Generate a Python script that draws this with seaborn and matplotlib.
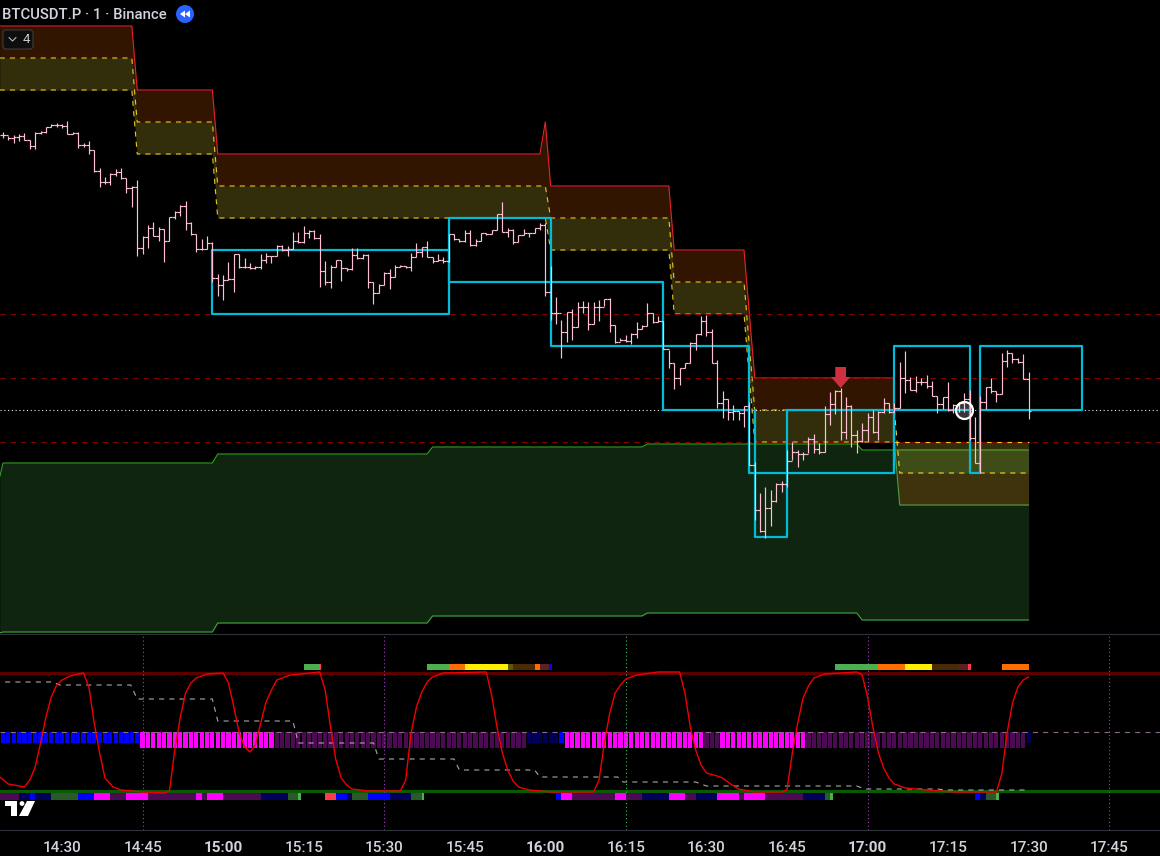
import numpy as np
import pandas as pd
import matplotlib
matplotlib.use("Agg")
import matplotlib.pyplot as plt
from matplotlib.patches import Circle, FancyBboxPatch, Polygon
import seaborn as sns

# ---------- data ----------
# x = minutes after 14:30 ; y = chart level on the (unlabelled) inverted price/oscillator scale
tick_minutes = [0, 15, 30, 45, 60, 75, 90, 105, 120, 135, 150, 165, 180, 195]
tick_labels = ["14:30", "14:45", "15:00", "15:15", "15:30", "15:45", "16:00",
               "16:15", "16:30", "16:45", "17:00", "17:15", "17:30", "17:45"]
bold_labels = ["15:00", "16:00", "17:00"]
first_bar_minute = -11

highs = [132,136,135,134,133,140,132,131,127,124,123,124,121,132,132,143,141,150,168,177,
         173,169,168,178,186,180,236,225,222,227,229,217,211,205,201,222,234,239,236,242,
         274,275,262,254,254,258,263,266,254,253,256,245,245,246,232,232,226,230,230,234,
         261,265,260,260,268,248,248,254,254,282,284,272,269,265,265,266,253,243,247,241,
         257,254,257,234,234,239,230,230,239,233,233,230,214,202,228,229,235,229,233,228,
         223,223,266,
         297,320,312,309,302,301,302,302,300,299,298,325,338,335,333,322,325,303,313,316,
         321,350,363,368,363,342,334,316,315,329,360,391,399,405,411,
         406,402,462,493,487,490,483,481,450,442,450,452,437,434,443,406,392,390,388,397,
         405,430,423,413,410,411,398,403,403,362,351,377,376,378,375,381,396,397,382,404,
         402,393,390,417,396,387,378,391,353,350,353,358,354,372]
lows = [138,140,143,141,140,149,149,134,133,127,127,128,134,134,148,147,154,172,187,184,
        185,176,179,193,207,256,254,248,236,241,262,241,219,216,230,235,252,250,249,282,
        296,300,280,292,268,268,269,269,269,263,263,256,251,256,249,243,243,238,239,287,
        285,288,267,281,271,270,259,259,288,304,293,285,289,277,267,268,271,257,257,257,
        263,261,263,262,240,242,242,246,246,241,235,234,230,232,237,244,242,235,237,233,
        230,296,320,
        324,358,342,340,327,313,330,324,321,306,332,343,341,342,344,338,329,326,323,322,
        349,368,389,385,368,363,350,335,336,363,408,418,420,420,420,
        427,465,520,532,538,526,502,492,487,460,467,460,453,453,454,452,425,414,440,439,
        447,453,442,441,433,440,413,413,412,408,393,390,392,385,388,396,413,409,411,413,
        412,412,440,463,473,409,393,402,394,367,363,363,379,419]
closes = [135,138,137,136,140,146,133,132,127,125,125,126,134,133,145,145,150,171,182,182,
          174,172,178,188,187,248,237,228,236,229,241,217,212,206,223,234,249,249,243,278,
          285,280,279,254,267,267,268,267,260,256,256,246,250,249,241,242,233,231,238,271,
          282,267,260,268,269,255,258,255,282,293,285,273,277,267,266,267,257,252,247,257,
          261,260,261,234,239,241,233,245,241,233,234,230,214,232,230,242,235,233,233,228,
          225,292,313,
          313,332,312,327,307,307,324,307,307,299,325,342,340,341,334,329,326,313,322,321,
          349,363,378,368,363,343,334,321,332,363,403,399,412,411,413,
          406,465,510,531,508,501,484,484,461,452,454,454,439,449,452,414,404,391,432,406,
          435,441,430,417,432,412,403,412,408,378,380,390,382,382,386,396,404,397,410,405,
          403,399,438,463,402,387,391,394,361,353,359,362,379,411]

band_minutes = [-11.6, 13, 14, 28, 29, 89, 90, 91, 113, 114, 127, 129, 155]
band_top = [26, 26, 90, 90, 154, 154, 122, 186, 186, 250, 250, 378, 378]
band_mid = [58, 58, 122, 122, 186, 186, 186, 218, 218, 282, 282, 410, 410]
band_low = [90, 90, 154, 154, 218, 218, 218, 250, 250, 314, 314, 442, 442]

late_minutes = [155, 156, 180]
late_top = [442, 442, 442]
late_mid = [442, 473, 473]
late_low = [442, 505, 505]
late_mid_line = [410, 473, 473]

green_minutes = [-11.6, -11, 28, 29, 68, 69, 108, 109, 148, 149, 180]
green_top = [477, 463, 463, 454, 454, 447, 447, 444, 444, 450, 450]
green_low = [633, 632, 632, 623, 623, 616, 616, 613, 613, 620, 620]

levels_red = [314, 378, 442]
level_last = 410

box_paths = [
    ([28, 28, 72, 72, 28], [250, 314, 314, 250, 250]),
    ([72, 72, 91, 91, 72], [218, 282, 282, 218, 218]),
    ([91, 91, 112, 112, 91], [282, 346, 346, 282, 282]),
    ([112, 112, 128, 128, 112], [346, 410, 410, 346, 346]),
    ([128, 128, 155, 155, 135, 135, 129, 129], [410, 473, 473, 410, 410, 537, 537, 410]),
    ([155, 155, 169, 169, 155], [473, 346, 346, 410, 410]),
    ([169, 169, 171, 171], [410, 473, 473, 410]),
    ([171, 171, 190, 190, 171], [410, 346, 346, 410, 410]),
]

signal_minute = 145
signal_tail, signal_shoulder, signal_tip = 367, 377, 388
marker_minute, marker_level = 168, 410

osc_minutes = [-11.6,-10,-8,-7,-6,-5,-4,-3,-2,-1,0,1.5,3,4,5,6,7,8,9.5,11,15,19,20,21,22,23,24,25,27,30,
               31,32,33,34,35,36,37,38,39,40,42.5,48,49,50,51,52,53,54,57,63,64,65,66,67,68,69,71,79,80,81,
               82,83,84,85,87,91,99,100,101,102,103,104,105,107,111,115,116,117,118,119,120,122,123,124.5,126,
               129,134,135,136,137,138,139,140,142,148,149,150,151,152,153,154,155,157,161,166,174,175,176,177,178,179,180]
osc_values = [777,784,786,787,780,767,743,717,697,685,680,676,674,673,687,723,753,778,787,790,792,793,791,750,718,693,683,678,674,673,
              683,707,733,747,752,745,723,702,690,680,675,672,690,727,760,778,785,789,791,791,780,733,707,692,682,677,673,672,695,727,
              753,770,781,787,790,792,792,780,743,713,693,685,679,675,672,672,693,727,750,765,773,776,778,784,789,
              792,792,790,753,723,698,686,678,674,672,675,697,727,752,768,778,784,788,790,792,792,774,733,703,687,680,677]

slow_minutes = [-10.6,-1.7,-0.4,12.8,14,28,29,43,44,58,59,73,74,88,89,103.5,104.5,118,120,134.6,148,149.5,163,164.5,180]
slow_values = [682,682,685,685,699,699,721,721,743,743,759,759,770,770,777,777,782,782,786,786,786,789,789,790,790]

hist_states = ["blue", "magenta", "purple", "navy", "blue", "magenta", "purple", "magenta", "purple", "navy"]
hist_counts = [26, 25, 47, 6, 1, 26, 3, 16, 41, 1]
hist_depth = {"blue": 11, "navy": 11, "magenta": 16, "purple": 16}

strip_low_start = [-11.5,-8,-6,-5,-2,3,6,9,12,16,25,26,27,30,37,42,44,49,51,53,54,57,61,65,67,
                   92,93,95,103,105,108,113,116,118,122,126,127,131,138,142,143,170,171,172,174]
strip_low_end = [-8,-6,-5,-2,3,6,9,12,16,25,26,27,30,37,42,44,44.5,51,53,54,57,61,65,67,67.5,
                 93,95,103,105,108,113,116,118,122,126,127,131,138,142,143,143.5,171,172,174,174.5]
strip_low_state = ["purple","navy","blue","navy","dgreen","blue","magenta","purple","magenta","purple","magenta",
                   "purple","magenta","purple","navy","dgreen","lgreen","red","blue","navy","dgreen","blue","navy",
                   "dgreen","lgreen","blue","magenta","purple","magenta","purple","navy","magenta","purple","navy",
                   "magenta","purple","magenta","purple","navy","dgreen","lgreen","blue","navy","dgreen","lgreen"]
strip_top_start = [45,48,68,72,75,83,84,88,89,90.7,144,152,157,162,167,168.7,175]
strip_top_end = [48,48.3,72,75,83,84,88,89,90.7,91.3,152,157,162,167,168.7,169.3,180]
strip_top_state = ["lgreen","red","lgreen","orange","yellow","olive","brown","orange","maroon","blue",
                   "lgreen","orange","yellow","brown","maroon","red","orange"]

# ---------- styles ----------
palette = {"blue": "#0000ff", "navy": "#00005a", "magenta": "#ff00ff", "purple": "#4c0a52",
           "dgreen": "#2a5a2a", "lgreen": "#4caf50", "red": "#ff3b4a", "orange": "#ff6d00",
           "yellow": "#ffee00", "olive": "#5a5a00", "brown": "#4a2a05", "maroon": "#5e2020"}
CYAN = "#00bcd8"
PINK = "#ffc0d4"
TEXT = "#d1d4dc"
PX1 = 0.8  # about one pixel line width at dpi 100

sns.set_theme(style="dark", rc={"axes.facecolor": "black", "figure.facecolor": "black",
                                "savefig.facecolor": "black", "axes.grid": False,
                                "patch.edgecolor": "none", "patch.linewidth": 0})
plt.rcParams["font.family"] = ["Roboto", "DejaVu Sans"]

W, H = 1160, 856
fig = plt.figure(figsize=(W / 100, H / 100), dpi=100)

def pane(top, bottom):
    return fig.add_axes([0, (H - bottom) / H, 1, (bottom - top) / H])

x_left, x_right = -11.55, 204.47

ax = pane(0, 634)
ax_hist = pane(634, 830)
ax_osc = pane(634, 830)
ui = fig.add_axes([0, 0, 1, 1])


def line(axis, xs, ys, **kw):
    sns.lineplot(x=list(xs), y=list(ys), estimator=None, sort=False, errorbar=None, ax=axis, **kw)


dash = (0, (4.6, 4.6))

# ---------- main pane ----------
ax.fill_between(green_minutes, green_top, green_low, color="#0f2510", lw=0, zorder=1)
line(ax, green_minutes, green_top, color="#2ea61e", lw=PX1, zorder=2)
line(ax, green_minutes, green_low, color="#3fa63f", lw=PX1, zorder=2)

ax.fill_between(band_minutes, band_top, band_mid, color="#ff6d00", alpha=0.2, lw=0, zorder=3)
ax.fill_between(band_minutes, band_mid, band_low, color="#ffeb3b", alpha=0.2, lw=0, zorder=3)
ax.fill_between(late_minutes, late_top, late_mid, color="#ffeb3b", alpha=0.2, lw=0, zorder=3)
ax.fill_between(late_minutes, late_mid, late_low, color="#ff6d00", alpha=0.2, lw=0, zorder=3)

line(ax, band_minutes, band_top, color="#e4202e", lw=PX1, zorder=4)
line(ax, band_minutes, band_mid, color="#ecc818", lw=PX1, linestyle=dash, zorder=4)
line(ax, band_minutes, band_low, color="#ecc818", lw=PX1, linestyle=dash, zorder=4)
line(ax, late_minutes, late_top, color="#ecc818", lw=PX1, linestyle=dash, zorder=4)
line(ax, late_minutes, late_mid_line, color="#f0d830", lw=PX1, linestyle=dash, zorder=4)
line(ax, late_minutes, late_low, color="#559f40", lw=PX1, zorder=4)

for lvl in levels_red:
    ax.axhline(lvl, color="#8a0000", lw=PX1, linestyle=dash, zorder=5)
ax.axhline(level_last, color="#f0e6e6", lw=PX1, linestyle=(0, (1, 2.4)), zorder=5)

for bx, by in box_paths:
    line(ax, bx, by, color=CYAN, lw=1.6, zorder=6)

bar_minutes = np.arange(first_bar_minute, first_bar_minute + len(closes))
opens = [closes[0]] + closes[:-1]
BAR_LW = 0.85
for coll in (ax.vlines(bar_minutes, highs, lows, color=PINK, lw=BAR_LW, zorder=7),
             ax.hlines(opens, bar_minutes - 0.5, bar_minutes, color=PINK, lw=BAR_LW, zorder=7),
             ax.hlines(closes, bar_minutes, bar_minutes + 0.5, color=PINK, lw=BAR_LW, zorder=7)):
    coll.set_snap(True)

ax.fill([signal_minute - 1, signal_minute + 1, signal_minute + 1, signal_minute + 1.8,
         signal_minute, signal_minute - 1.8, signal_minute - 1],
        [signal_tail, signal_tail, signal_shoulder, signal_shoulder, signal_tip,
         signal_shoulder, signal_shoulder], color="#cf3040", lw=0, zorder=8)
ax.scatter([marker_minute], [marker_level], s=150, facecolor=(1, 1, 1, 0.22), edgecolor="white",
           linewidths=1.6, zorder=9)

ax.set(xlim=(x_left, x_right), ylim=(634, 0), xlabel=None, ylabel=None, xticks=[], yticks=[])

# ---------- oscillator pane ----------
hist_state_per_bar = np.repeat(hist_states, hist_counts)
hist_df = pd.DataFrame({"minute": bar_minutes, "state": hist_state_per_bar})
hist_df["depth"] = hist_df["state"].map(hist_depth)
sns.barplot(data=hist_df, x="minute", y="depth", hue="state", palette=palette, dodge=False,
            native_scale=True, width=0.78, saturation=1, legend=False, orient="x", errorbar=None,
            edgecolor="none", linewidth=0, ax=ax_hist)
ax_hist.set(xlim=(x_left, x_right), ylim=(98, -98), xlabel=None, ylabel=None, xticks=[], yticks=[])

ax_osc.patch.set_alpha(0)
ax_osc.axhline(673, color="#5a0000", lw=2.3, zorder=2)
ax_osc.axhline(791, color="#0a5a05", lw=2.3, zorder=2)
ax_osc.axhline(732, color="#8c6a84", lw=PX1, linestyle=dash, zorder=3)
for m in tick_minutes[1::3]:
    ax_osc.axvline(m, color="#3fc060" if m == 105 else "#a23cc0", lw=PX1, linestyle=(0, (1, 2.4)), zorder=2)

for starts, ends, states, ytop, h in [(strip_low_start, strip_low_end, strip_low_state, 793.5, 6.5),
                                      (strip_top_start, strip_top_end, strip_top_state, 664, 6.5)]:
    ax_osc.broken_barh([(s, e - s) for s, e in zip(starts, ends)], (ytop, h),
                       facecolors=[palette[c] for c in states], edgecolor="none", linewidth=0, zorder=3)

line(ax_osc, slow_minutes, slow_values, color="#a8a8a8", lw=PX1, linestyle=dash, zorder=4)
line(ax_osc, osc_minutes, osc_values, color="#f00000", lw=1.0, zorder=5)

ax_osc.set(xlim=(x_left, x_right), ylim=(830, 634), xlabel=None, ylabel=None, yticks=[])
ax_osc.set_xticks(tick_minutes)
ax_osc.set_xticklabels(tick_labels, fontsize=11, color=TEXT)
ax_osc.tick_params(axis="x", length=0, pad=8, colors=TEXT)
for lab in ax_osc.get_xticklabels():
    lab.set_fontweight("bold" if lab.get_text() in bold_labels else "medium")
for a in (ax, ax_hist, ax_osc):
    for s in a.spines.values():
        s.set_visible(False)

# ---------- chart chrome ----------
ui.patch.set_alpha(0)
ui.set(xlim=(0, W), ylim=(H, 0), xticks=[], yticks=[])
for s in ui.spines.values():
    s.set_visible(False)
ui.axhline(634, color="#2f323a", lw=PX1)
ui.axhline(830, color="#2f323a", lw=PX1)
ui.text(2, 15, "BTCUSDT.P · 1 · Binance", color=TEXT, fontsize=10.7, fontweight="medium", va="center", ha="left")
ui.add_patch(Circle((185, 14), 9, color="#2962ff", lw=0))
ui.add_patch(Polygon([(180, 14), (185, 10.5), (185, 17.5)], color="white", lw=0))
ui.add_patch(Polygon([(185, 14), (190, 10.5), (190, 17.5)], color="white", lw=0))
ui.add_patch(FancyBboxPatch((3, 30), 30, 19, boxstyle="round,pad=0,rounding_size=3",
                            fc="#0e0e0e", ec="#3c3c3c", lw=PX1))
ui.plot([9, 12.5, 16], [37.5, 41, 37.5], color="#b8b8b8", lw=PX1)
ui.text(26, 39.5, "4", color="#c8c8c8", fontsize=9.5, va="center", ha="center")
ui.add_patch(Polygon([(5, 801), (17, 801), (17, 816), (11, 816), (11, 806), (5, 806)], color="white", lw=0))
ui.add_patch(Circle((22, 803.5), 2.4, color="white", lw=0))
ui.add_patch(Polygon([(27, 801), (35, 801), (28, 816), (19, 816)], color="white", lw=0))

fig.savefig("out.png", dpi=100, facecolor="black")
